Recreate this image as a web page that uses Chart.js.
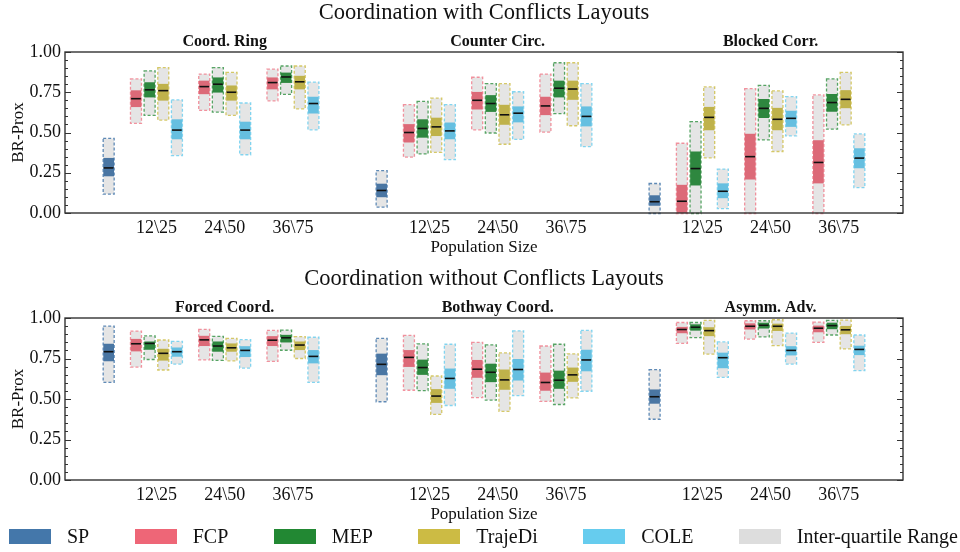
<!DOCTYPE html>
<html>
<head>
<meta charset="utf-8">
<script src="https://cdn.jsdelivr.net/npm/chart.js@4.4.1/dist/chart.umd.min.js"></script>
<style>
    body { margin: 0; background: #ffffff; }
    #page { position: relative; width: 960px; height: 552px; overflow: hidden; font-family: "Liberation Serif", serif; }
    canvas { position: absolute; left: 0; }
    #top-row { top: 0; }
    #bottom-row { top: 266px; }
    #legend { position: absolute; left: 9px; right: 2px; top: 526px; height: 20px; display: flex; justify-content: space-between; align-items: center; font-size: 20px; color: #111; }
    .legend-item { display: flex; align-items: center; }
    .legend-box { width: 42px; height: 15px; margin-right: 16px; }
</style>
</head>
<body>
<div id="page">
    <canvas id="top-row" width="960" height="262"></canvas>
    <canvas id="bottom-row" width="960" height="263"></canvas>
    <div id="legend"></div>
</div>
<script>
"use strict";

// Methoden, populatiegroottes en lay-outs zoals in de figuur.
const methods = ["SP", "FCP", "MEP", "TrajeDi", "COLE"];
const popSizes = ["12\\25", "24\\50", "36\\75"];
const topLayouts = ["Coord. Ring", "Counter Circ.", "Blocked Corr."];
const bottomLayouts = ["Forced Coord.", "Bothway Coord.", "Asymm. Adv."];
const yTickValues = [0, 0.25, 0.5, 0.75, 1];

// Per rij: [min, onder, mediaan, boven, max].
// Volgorde: SP, daarna FCP, MEP, TrajeDi, COLE voor 12\25, 24\50 en 36\75.
const coordRing = [
    [0.12, 0.23, 0.28, 0.34, 0.46],
    [0.56, 0.66, 0.71, 0.76, 0.83],
    [0.61, 0.72, 0.765, 0.81, 0.88],
    [0.58, 0.70, 0.76, 0.80, 0.90],
    [0.36, 0.46, 0.515, 0.58, 0.70],
    [0.64, 0.74, 0.785, 0.82, 0.86],
    [0.63, 0.75, 0.80, 0.84, 0.90],
    [0.61, 0.70, 0.75, 0.79, 0.87],
    [0.365, 0.46, 0.515, 0.565, 0.68],
    [0.70, 0.77, 0.81, 0.84, 0.89],
    [0.74, 0.81, 0.845, 0.87, 0.91],
    [0.65, 0.77, 0.815, 0.85, 0.91],
    [0.52, 0.62, 0.68, 0.72, 0.81]
];
const counterCirc = [
    [0.04, 0.10, 0.14, 0.18, 0.26],
    [0.35, 0.44, 0.50, 0.55, 0.67],
    [0.37, 0.47, 0.525, 0.58, 0.69],
    [0.38, 0.48, 0.535, 0.59, 0.71],
    [0.335, 0.46, 0.51, 0.56, 0.67],
    [0.52, 0.645, 0.70, 0.75, 0.84],
    [0.50, 0.63, 0.68, 0.73, 0.80],
    [0.43, 0.55, 0.61, 0.67, 0.80],
    [0.46, 0.565, 0.62, 0.66, 0.75],
    [0.505, 0.61, 0.665, 0.72, 0.86],
    [0.62, 0.72, 0.775, 0.82, 0.93],
    [0.545, 0.705, 0.77, 0.82, 0.93],
    [0.415, 0.54, 0.60, 0.66, 0.80]
];
const blockedCorr = [
    [0.0, 0.047, 0.07, 0.108, 0.18],
    [0.0, 0.0, 0.073, 0.173, 0.43],
    [0.0, 0.173, 0.276, 0.38, 0.565],
    [0.345, 0.516, 0.594, 0.657, 0.78],
    [0.03, 0.094, 0.135, 0.182, 0.27],
    [0.0, 0.21, 0.35, 0.49, 0.77],
    [0.457, 0.592, 0.65, 0.706, 0.79],
    [0.385, 0.516, 0.582, 0.651, 0.755],
    [0.482, 0.537, 0.588, 0.633, 0.72],
    [0.0, 0.186, 0.314, 0.45, 0.73],
    [0.524, 0.631, 0.686, 0.737, 0.83],
    [0.551, 0.653, 0.706, 0.761, 0.87],
    [0.161, 0.28, 0.341, 0.40, 0.488]
];
const forcedCoord = [
    [0.606, 0.735, 0.792, 0.839, 0.947],
    [0.70, 0.796, 0.841, 0.869, 0.916],
    [0.747, 0.806, 0.843, 0.853, 0.886],
    [0.682, 0.739, 0.782, 0.808, 0.861],
    [0.718, 0.763, 0.792, 0.816, 0.853],
    [0.745, 0.829, 0.865, 0.888, 0.927],
    [0.741, 0.794, 0.827, 0.853, 0.884],
    [0.739, 0.794, 0.816, 0.841, 0.871],
    [0.694, 0.761, 0.80, 0.824, 0.863],
    [0.735, 0.829, 0.863, 0.886, 0.92],
    [0.804, 0.851, 0.878, 0.894, 0.922],
    [0.753, 0.804, 0.833, 0.853, 0.882],
    [0.606, 0.722, 0.763, 0.80, 0.878]
];
const bothwayCoord = [
    [0.486, 0.649, 0.714, 0.778, 0.871],
    [0.557, 0.70, 0.757, 0.80, 0.89],
    [0.555, 0.651, 0.694, 0.741, 0.837],
    [0.408, 0.478, 0.518, 0.559, 0.639],
    [0.463, 0.565, 0.627, 0.686, 0.835],
    [0.512, 0.633, 0.684, 0.739, 0.847],
    [0.496, 0.606, 0.665, 0.716, 0.831],
    [0.427, 0.559, 0.618, 0.68, 0.782],
    [0.524, 0.616, 0.682, 0.745, 0.918],
    [0.488, 0.553, 0.602, 0.661, 0.824],
    [0.469, 0.565, 0.616, 0.673, 0.835],
    [0.51, 0.608, 0.649, 0.692, 0.776],
    [0.551, 0.673, 0.741, 0.802, 0.92]
];
const asymmAdv = [
    [0.378, 0.473, 0.514, 0.557, 0.678],
    [0.847, 0.908, 0.929, 0.943, 0.969],
    [0.882, 0.924, 0.943, 0.959, 0.969],
    [0.78, 0.89, 0.922, 0.941, 0.982],
    [0.637, 0.692, 0.755, 0.784, 0.849],
    [0.873, 0.931, 0.949, 0.965, 0.98],
    [0.886, 0.937, 0.955, 0.969, 0.98],
    [0.833, 0.922, 0.949, 0.963, 0.986],
    [0.718, 0.771, 0.80, 0.824, 0.904],
    [0.853, 0.914, 0.937, 0.951, 0.971],
    [0.898, 0.933, 0.953, 0.969, 0.982],
    [0.812, 0.902, 0.927, 0.949, 0.984],
    [0.678, 0.773, 0.806, 0.827, 0.892]
];

// Kleuren: legenda, gekleurde boxen in de grafiek en de gestippelde randen.
const legendColors = ["#4477AA", "#EE6677", "#228833", "#CCBB44", "#66CCEE"];
const boxColors = ["#4a76a3", "#dc6a78", "#2e873f", "#bfb24b", "#66bfe0"];
const edgeColors = ["rgba(68,119,170,0.85)", "rgba(238,102,119,0.7)", "rgba(34,136,51,0.75)", "rgba(204,187,68,0.8)", "rgba(102,204,238,0.8)"];
const rangeColor = "#e5e5e5";
const serif = "'Liberation Serif', 'Times New Roman', serif";

// Positie op de x-as: per lay-out 20 eenheden, SP eerst, dan drie groepen van vier.
function barPosition(panel, index) {
    if (index === 0) {
        return panel * 20;
    }
    const group = Math.floor((index - 1) / 4);
    const method = (index - 1) % 4;
    return panel * 20 + 2 + group * 5 + method;
}

function barMethod(index) {
    return index === 0 ? 0 : ((index - 1) % 4) + 1;
}

function buildBars(panels) {
    const bars = [];
    panels.forEach((rows, panel) => {
        rows.forEach((row, index) => {
            bars.push({ x: barPosition(panel, index), method: barMethod(index), stats: row });
        });
    });
    return bars;
}

const xTickPositions = [];
const xTickLabels = [];
[0, 1, 2].forEach((panel) => {
    popSizes.forEach((label, group) => {
        xTickPositions.push(panel * 20 + 3.5 + group * 5);
        xTickLabels.push(label);
    });
});

function isMajor(value) {
    return yTickValues.some((v) => Math.abs(v - value) < 1e-6);
}

// Gestippelde rand om elke min-max box.
const dashedEdges = {
    id: "dashedEdges",
    afterDatasetsDraw(chart) {
        const ctx = chart.ctx;
        const meta = chart.getDatasetMeta(0);
        const bars = chart.data.datasets[0].bars;
        ctx.save();
        ctx.lineWidth = 1.3;
        ctx.setLineDash([3, 2]);
        meta.data.forEach((el, i) => {
            const left = el.x - el.width / 2 - 0.5;
            const top = Math.min(el.y, el.base) - 0.5;
            const h = Math.abs(el.base - el.y) + 1;
            ctx.strokeStyle = edgeColors[bars[i].method];
            ctx.strokeRect(left, top, el.width + 1, h);
        });
        ctx.restore();
    }
};

// Kader met naar binnen wijzende ticks links en rechts, plus de titels per lay-out.
const frameAndTitles = {
    id: "frameAndTitles",
    afterDraw(chart, args, options) {
        const ctx = chart.ctx;
        const area = chart.chartArea;
        const yScale = chart.scales.y;
        const xScale = chart.scales.x;
        ctx.save();
        ctx.strokeStyle = "#333";
        ctx.lineWidth = 1;
        yScale.ticks.forEach((tick) => {
            const py = Math.round(yScale.getPixelForValue(tick.value)) + 0.5;
            const len = isMajor(tick.value) ? 6 : 3;
            ctx.beginPath();
            ctx.moveTo(area.left, py);
            ctx.lineTo(area.left + len, py);
            ctx.moveTo(area.right, py);
            ctx.lineTo(area.right - len, py);
            ctx.stroke();
        });
        ctx.lineWidth = 1.4;
        ctx.strokeRect(area.left, area.top, area.right - area.left, area.bottom - area.top);

        ctx.fillStyle = "#111";
        ctx.font = "bold 16px " + serif;
        ctx.textAlign = "center";
        ctx.textBaseline = "middle";
        options.names.forEach((name, panel) => {
            ctx.fillText(name, xScale.getPixelForValue(panel * 20 + 8.5), area.top - 10);
        });
        ctx.restore();
    }
};

function makeRow(canvasId, title, layoutNames, panels) {
    const bars = buildBars(panels);
    const config = {
        type: "bar",
        data: {
            datasets: [
                {
                    label: "Inter-quartile Range",
                    bars: bars,
                    data: bars.map((b) => ({ x: b.x, y: [b.stats[0], b.stats[4]] })),
                    backgroundColor: rangeColor,
                    barThickness: 10,
                    grouped: false,
                    order: 3
                },
                {
                    label: "box",
                    data: bars.map((b) => ({ x: b.x, y: [b.stats[1], b.stats[3]] })),
                    backgroundColor: bars.map((b) => boxColors[b.method]),
                    barThickness: 10,
                    grouped: false,
                    order: 2
                },
                {
                    type: "line",
                    label: "median",
                    data: bars.map((b) => ({ x: b.x, y: b.stats[2] })),
                    showLine: false,
                    pointStyle: "line",
                    pointRadius: 5,
                    pointBorderWidth: 1.6,
                    borderColor: "#111",
                    order: 1
                }
            ]
        },
        options: {
            responsive: false,
            animation: false,
            layout: { padding: { left: 8, right: 0, top: 0, bottom: 0 } },
            scales: {
                x: {
                    type: "linear",
                    offset: false,
                    min: -3.2,
                    max: 58.2,
                    afterBuildTicks(scale) {
                        scale.ticks = xTickPositions.map((v) => ({ value: v }));
                    },
                    afterFit(scale) {
                        scale.height = 49;
                    },
                    ticks: {
                        autoSkip: false,
                        maxRotation: 0,
                        padding: 4,
                        color: "#111",
                        font: { family: serif, size: 18 },
                        callback(value) {
                            const i = xTickPositions.findIndex((p) => Math.abs(p - value) < 1e-6);
                            return i >= 0 ? xTickLabels[i] : "";
                        }
                    },
                    grid: { display: false, drawTicks: false },
                    border: { display: false },
                    title: {
                        display: true,
                        text: "Population Size",
                        color: "#111",
                        font: { family: serif, size: 17 },
                        padding: { top: 0, bottom: 4 }
                    }
                },
                y: {
                    min: 0,
                    max: 1,
                    afterFit(scale) {
                        scale.width = 57;
                    },
                    ticks: {
                        stepSize: 0.05,
                        autoSkip: false,
                        padding: 4,
                        color: "#111",
                        font: { family: serif, size: 18 },
                        callback(value) {
                            return isMajor(value) ? value.toFixed(2) : "";
                        }
                    },
                    grid: { display: false, drawTicks: false },
                    border: { display: false },
                    title: {
                        display: true,
                        text: "BR-Prox",
                        color: "#111",
                        font: { family: serif, size: 17 },
                        padding: { top: 0, bottom: 0 }
                    }
                },
                yRight: {
                    position: "right",
                    min: 0,
                    max: 1,
                    afterFit(scale) {
                        scale.width = 57;
                    },
                    ticks: { display: false },
                    grid: { display: false, drawTicks: false },
                    border: { display: false }
                }
            },
            plugins: {
                legend: { display: false },
                tooltip: { enabled: false },
                title: {
                    display: true,
                    text: title,
                    color: "#111",
                    font: { family: serif, size: 22.5, weight: "normal" },
                    padding: { top: 0, bottom: 25 }
                },
                frameAndTitles: { names: layoutNames }
            }
        },
        plugins: [dashedEdges, frameAndTitles]
    };
    new Chart(document.getElementById(canvasId), config);
}

function renderLegend() {
    const names = methods.concat(["Inter-quartile Range"]);
    const colors = legendColors.concat(["#DDDDDD"]);
    document.getElementById("legend").innerHTML = names.map((name, i) => `
        <div class="legend-item">
            <span class="legend-box" style="background:${colors[i]}"></span>
            <span>${name}</span>
        </div>
    `).join("");
}

makeRow("top-row", "Coordination with Conflicts Layouts", topLayouts, [coordRing, counterCirc, blockedCorr]);
makeRow("bottom-row", "Coordination without Conflicts Layouts", bottomLayouts, [forcedCoord, bothwayCoord, asymmAdv]);
renderLegend();
</script>
</body>
</html>
